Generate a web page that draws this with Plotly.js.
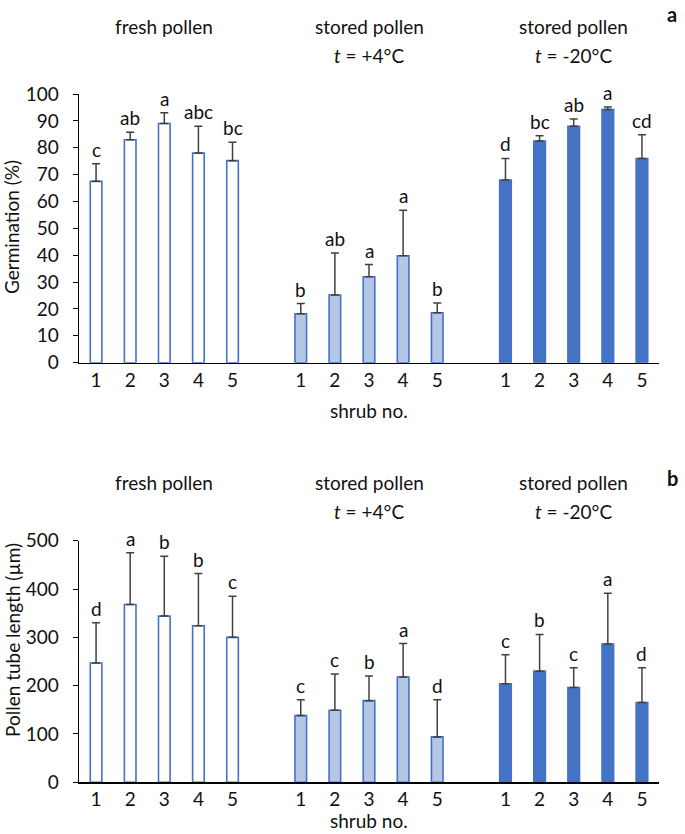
<!DOCTYPE html>
<html>
<head>
<meta charset="utf-8">
<script src="https://cdn.plot.ly/plotly-3.0.1.min.js"></script>
<style>html,body{margin:0;padding:0;background:#fff;} #chart{width:685px;height:834px;}</style>
</head>
<body>
<div id="chart"></div>
<script>
// ---- data ----
const shrubs = ['1', '2', '3', '4', '5'];
const groupLine1 = ['fresh pollen', 'stored pollen', 'stored pollen'];
const groupLine2 = ['', '<i>t</i> = +4°C', '<i>t</i> = -20°C'];
const xTitle = 'shrub no.';
const panelLabels = ['a', 'b'];
const yTitles = ['Germination (%)', 'Pollen tube length (µm)'];

// Germination (%)
const germFresh = [67.5, 83, 89, 78, 75.2];
const germFreshErr = [6.5, 2.8, 4, 10, 6.8];
const germFreshLet = ['c', 'ab', 'a', 'abc', 'bc'];
const germP4 = [18.2, 25.2, 32, 39.8, 18.6];
const germP4Err = [3.8, 15.6, 4.5, 16.9, 3.6];
const germP4Let = ['b', 'ab', 'a', 'a', 'b'];
const germM20 = [68, 82.5, 88, 94.2, 76];
const germM20Err = [8, 2, 2.7, 1, 8.8];
const germM20Let = ['d', 'bc', 'ab', 'a', 'cd'];

// Pollen tube length (µm)
const tubeFresh = [247, 368, 344, 324, 300];
const tubeFreshErr = [83, 107, 124, 108, 85];
const tubeFreshLet = ['d', 'a', 'b', 'b', 'c'];
const tubeP4 = [138, 149, 169, 218, 94];
const tubeP4Err = [33, 75, 51, 69, 77];
const tubeP4Let = ['c', 'c', 'b', 'a', 'd'];
const tubeM20 = [204, 230, 196, 286, 165];
const tubeM20Err = [60, 76, 41, 105, 72];
const tubeM20Let = ['c', 'b', 'c', 'a', 'd'];

// ---- layout helpers ----
const FONT = 'Lato, "Open Sans", sans-serif';
const FS = 19;
const TXT = '#111111';
const BLUE = '#4472C4';
const W = 685, H = 834;
const groupOffsets = [0, 6, 12];
const pos = (g) => shrubs.map((_, i) => groupOffsets[g] + i);
const allPos = [].concat(pos(0), pos(1), pos(2));
const allText = [].concat(shrubs, shrubs, shrubs);

const styles = [
  {fill: '#FFFFFF', line: BLUE},
  {fill: '#B4C7E7', line: BLUE},
  {fill: BLUE, line: BLUE}
];

function barTrace(g, vals, errs, xa, ya) {
  return {
    type: 'bar', x: pos(g), y: vals, xaxis: xa, yaxis: ya,
    width: 0.34,
    marker: {color: styles[g].fill, line: {color: styles[g].line, width: 1.6}},
    error_y: {type: 'data', symmetric: false, array: errs, arrayminus: errs.map(() => 0),
              color: '#404040', thickness: 1.5, width: 4},
    hoverinfo: 'skip', showlegend: false
  };
}

const traces = [
  barTrace(0, germFresh, germFreshErr, 'x', 'y'),
  barTrace(1, germP4, germP4Err, 'x', 'y'),
  barTrace(2, germM20, germM20Err, 'x', 'y'),
  barTrace(0, tubeFresh, tubeFreshErr, 'x2', 'y2'),
  barTrace(1, tubeP4, tubeP4Err, 'x2', 'y2'),
  barTrace(2, tubeM20, tubeM20Err, 'x2', 'y2')
];

const font = (size) => ({family: FONT, size: size || FS, color: TXT});
const annotations = [];
function letters(g, vals, errs, lets, xa, ya) {
  lets.forEach((t, i) => {
    annotations.push({
      x: pos(g)[i], y: vals[i] + errs[i], xref: xa, yref: ya,
      text: t, showarrow: false, yanchor: 'bottom', yshift: 1,
      font: font()
    });
  });
}
letters(0, germFresh, germFreshErr, germFreshLet, 'x', 'y');
letters(1, germP4, germP4Err, germP4Let, 'x', 'y');
letters(2, germM20, germM20Err, germM20Let, 'x', 'y');
letters(0, tubeFresh, tubeFreshErr, tubeFreshLet, 'x2', 'y2');
letters(1, tubeP4, tubeP4Err, tubeP4Let, 'x2', 'y2');
letters(2, tubeM20, tubeM20Err, tubeM20Let, 'x2', 'y2');

// paper-coordinate helpers
const xDom = [79 / W, 659 / W];
const xToPaper = (v) => xDom[0] + (v + 0.5) / 17 * (xDom[1] - xDom[0]);
const py = (p) => 1 - p / H;
const px = (p) => p / W;

function panelText(dy, k, labelY, xTitleY, yTitleCenter) {
  groupLine1.forEach((t, g) => {
    annotations.push({x: xToPaper(groupOffsets[g] + 2), y: py(26 + dy), xref: 'paper', yref: 'paper',
      text: t, showarrow: false, yanchor: 'middle', xanchor: 'center', font: font()});
    if (groupLine2[g]) {
      annotations.push({x: xToPaper(groupOffsets[g] + 2), y: py(55 + dy), xref: 'paper', yref: 'paper',
        text: groupLine2[g], showarrow: false, yanchor: 'middle', xanchor: 'center', font: font()});
    }
  });
  annotations.push({x: px(672), y: py(labelY), xref: 'paper', yref: 'paper', text: '<b>' + panelLabels[k] + '</b>',
    showarrow: false, xanchor: 'center', yanchor: 'middle', font: font(20)});
  annotations.push({x: xToPaper(8), y: py(xTitleY), xref: 'paper', yref: 'paper', text: xTitle,
    showarrow: false, xanchor: 'center', yanchor: 'middle', font: font()});
  annotations.push({x: px(12), y: py(yTitleCenter), xref: 'paper', yref: 'paper', text: yTitles[k],
    showarrow: false, xanchor: 'center', yanchor: 'middle', textangle: -90, font: font()});
}
panelText(0, 0, 14, 410, 227);
panelText(457, 1, 478, 820, 640);

function xAxis(anchor) {
  return {
    domain: xDom, anchor: anchor, range: [-0.5, 16.5],
    tickmode: 'array', tickvals: allPos, ticktext: allText,
    showline: true, linecolor: '#000', linewidth: 1.3, ticks: '', showgrid: false, zeroline: false,
    tickfont: font()
  };
}
function yAxis(anchor, dom, range, dtick) {
  return {
    domain: dom, anchor: anchor, range: range, dtick: dtick, tick0: 0,
    showline: true, linecolor: '#000', linewidth: 1.3, ticks: 'outside', ticklen: 5, tickcolor: '#000',
    ticklabelstandoff: 10,
    showgrid: false, zeroline: false,
    tickfont: font()
  };
}

const layout = {
  width: W, height: H,
  margin: {l: 0, r: 0, t: 0, b: 0},
  paper_bgcolor: '#fff', plot_bgcolor: '#fff',
  font: font(),
  xaxis: xAxis('y'),
  yaxis: yAxis('x', [py(362.7), py(94)], [0, 100], 10),
  xaxis2: xAxis('y2'),
  yaxis2: yAxis('x2', [py(782.3), py(540.7)], [0, 500], 100),
  annotations: annotations
};

Plotly.newPlot('chart', traces, layout, {staticPlot: true, displayModeBar: false});
</script>
</body>
</html>
